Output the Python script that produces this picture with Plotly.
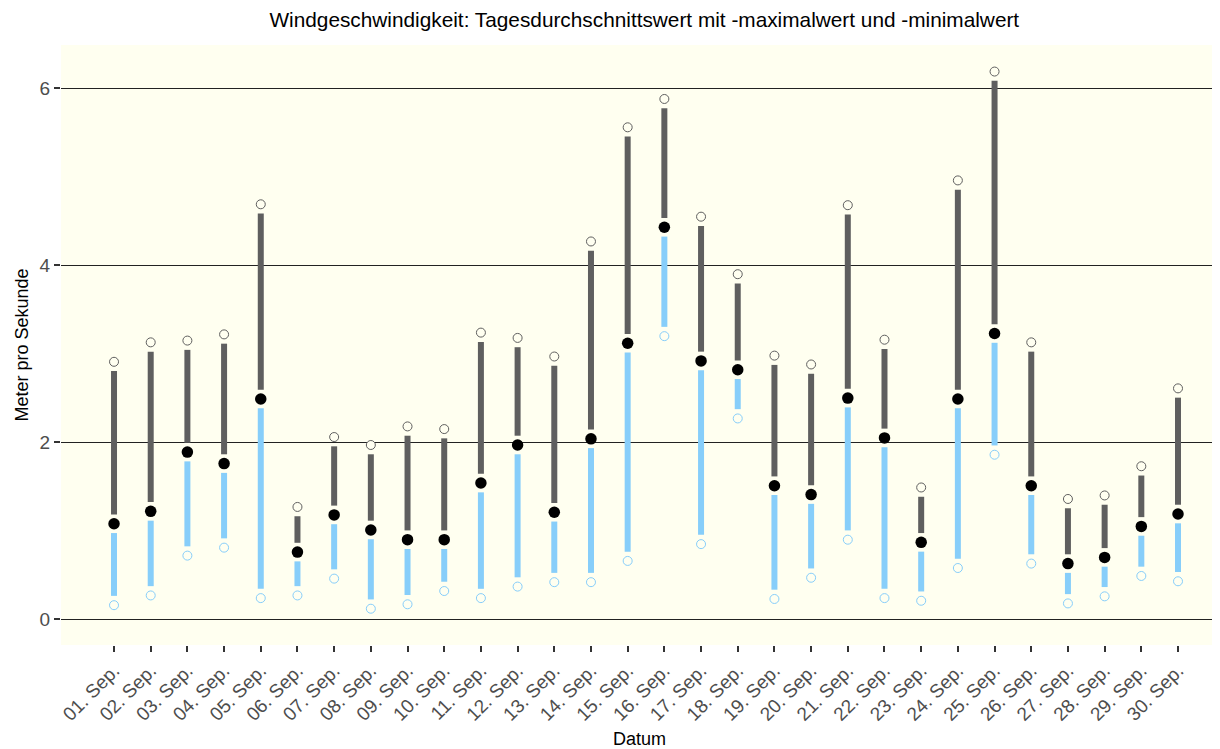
import plotly.graph_objects as go

days = [f"{d:02d}. Sep." for d in range(1, 31)]
mean_vals = [1.08, 1.22, 1.89, 1.76, 2.49, 0.76, 1.18, 1.01, 0.90, 0.90,
             1.54, 1.97, 1.21, 2.04, 3.12, 4.43, 2.92, 2.82, 1.51, 1.41,
             2.50, 2.05, 0.87, 2.49, 3.23, 1.51, 0.63, 0.70, 1.05, 1.19]
max_vals = [2.91, 3.13, 3.15, 3.22, 4.69, 1.27, 2.06, 1.97, 2.18, 2.15,
            3.24, 3.18, 2.97, 4.27, 5.56, 5.88, 4.55, 3.90, 2.98, 2.88,
            4.68, 3.16, 1.49, 4.96, 6.19, 3.13, 1.36, 1.40, 1.73, 2.61]
min_vals = [0.16, 0.27, 0.72, 0.81, 0.24, 0.27, 0.46, 0.12, 0.17, 0.32,
            0.24, 0.37, 0.42, 0.42, 0.66, 3.20, 0.85, 2.27, 0.23, 0.47,
            0.90, 0.24, 0.21, 0.58, 1.86, 0.63, 0.18, 0.26, 0.49, 0.43]

GAP = 0.105
GRAY = "#5f5f5f"
BLUE = "#87CEFA"
BG = "#FFFFF0"

gx, gy, bx, by = [], [], [], []
for d, mn, me, mx in zip(days, min_vals, mean_vals, max_vals):
    gx += [d, d, None]
    gy += [me + GAP, mx - GAP, None]
    bx += [d, d, None]
    by += [mn + GAP, me - GAP, None]

fig = go.Figure()
fig.add_trace(go.Scatter(x=gx, y=gy, mode="lines", line=dict(color=GRAY, width=6),
                         showlegend=False, hoverinfo="skip"))
fig.add_trace(go.Scatter(x=bx, y=by, mode="lines", line=dict(color=BLUE, width=6),
                         showlegend=False, hoverinfo="skip"))
fig.add_trace(go.Scatter(x=days, y=max_vals, mode="markers",
                         marker=dict(size=9, color=BG, line=dict(color=GRAY, width=1)),
                         showlegend=False, name="Max"))
fig.add_trace(go.Scatter(x=days, y=min_vals, mode="markers",
                         marker=dict(size=9, color=BG, line=dict(color=BLUE, width=1)),
                         showlegend=False, name="Min"))
fig.add_trace(go.Scatter(x=days, y=mean_vals, mode="markers",
                         marker=dict(size=11.5, color="black"),
                         showlegend=False, name="Mittel"))

fig.update_layout(
    width=1212, height=741,
    margin=dict(l=53, r=2, t=37, b=104),
    paper_bgcolor="white", plot_bgcolor=BG,
    font=dict(family="Liberation Sans, Arial, sans-serif", size=18, color="black"),
    title=dict(text="Windgeschwindigkeit: Tagesdurchschnittswert mit -maximalwert und -minimalwert",
               x=0.525, xanchor="center", y=0.984, yanchor="middle",
               font=dict(size=20.8, color="black")),
)
fig.update_xaxes(
    type="category", categoryorder="array", categoryarray=days,
    range=[-1.445, 30.09], showgrid=False, zeroline=False, automargin=False,
    ticks="outside", ticklen=6, tickwidth=1.5, tickcolor="#333333",
    tickangle=-45, tickfont=dict(size=19, color="#4d4d4d"),
    title=dict(text="Datum", font=dict(size=18, color="black"), standoff=8),
)
fig.update_yaxes(
    range=[-0.29, 6.49], tickvals=[0, 2, 4, 6], ticktext=["0", "2", "4", "6"],
    showgrid=True, gridcolor="#222222", gridwidth=1, zeroline=False, automargin=False,
    ticks="outside", ticklen=6, tickwidth=1.5, tickcolor="#333333",
    tickfont=dict(size=19, color="#4d4d4d"),
    title=dict(text="Meter pro Sekunde", font=dict(size=18, color="black"), standoff=6),
)

fig.write_html("out.html")
